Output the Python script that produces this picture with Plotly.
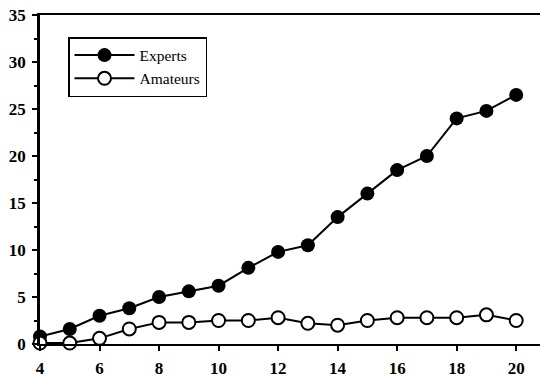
import plotly.graph_objects as go

ages = [4, 5, 6, 7, 8, 9, 10, 11, 12, 13, 14, 15, 16, 17, 18, 19, 20]
experts = [0.8, 1.6, 3.0, 3.8, 5.0, 5.6, 6.2, 8.1, 9.8, 10.5, 13.5, 16.0, 18.5, 20.0, 24.0, 24.8, 26.5]
amateurs = [0.1, 0.1, 0.6, 1.6, 2.3, 2.3, 2.5, 2.5, 2.8, 2.2, 2.0, 2.5, 2.8, 2.8, 2.8, 3.1, 2.5]
x_ticks = [4, 6, 8, 10, 12, 14, 16, 18, 20]
y_ticks = [0, 5, 10, 15, 20, 25, 30, 35]

serif = "Liberation Serif"

fig = go.Figure()
fig.add_trace(go.Scatter(
    x=ages, y=experts, name="Experts", mode="lines+markers",
    line=dict(color="black", width=2),
    marker=dict(symbol="circle", size=14, color="black"),
    cliponaxis=False,
))
fig.add_trace(go.Scatter(
    x=ages, y=amateurs, name="Amateurs", mode="lines+markers",
    line=dict(color="black", width=2),
    marker=dict(symbol="circle", size=13, color="white", line=dict(color="black", width=2)),
    cliponaxis=False,
))

fig.update_layout(
    width=540, height=377,
    margin=dict(l=40, r=0, t=15, b=33),
    paper_bgcolor="white", plot_bgcolor="white",
    font=dict(family=serif, color="black", size=16),
    showlegend=True,
    legend=dict(
        x=0.056, y=0.933, xanchor="left", yanchor="top",
        bgcolor="white", bordercolor="black", borderwidth=1.5,
        font=dict(family=serif, size=15.5, color="black"),
        itemwidth=60, tracegroupgap=0,
    ),
    xaxis=dict(
        range=[4, 20.8], tickvals=x_ticks, showgrid=False, zeroline=False,
        automargin=False,
        showline=True, linecolor="black", linewidth=2, mirror=True,
        ticks="outside", ticklen=5, tickwidth=1.5, tickcolor="black",
        ticklabelstandoff=3,
        tickfont=dict(family=serif, size=17, color="black", weight="bold"),
    ),
    yaxis=dict(
        range=[0, 35], tickvals=y_ticks, showgrid=False, zeroline=False,
        automargin=False,
        showline=True, linecolor="black", linewidth=2.5,
        ticks="outside", ticklen=5, tickwidth=1.5, tickcolor="black",
        ticklabelstandoff=3,
        minor=dict(dtick=2.5, ticks="outside", ticklen=3, tickwidth=1.5, tickcolor="black"),
        tickfont=dict(family=serif, size=17, color="black", weight="bold"),
    ),
)

fig.write_html("out.html", config={"displayModeBar": False},
               post_script="document.body.style.margin='0';")
